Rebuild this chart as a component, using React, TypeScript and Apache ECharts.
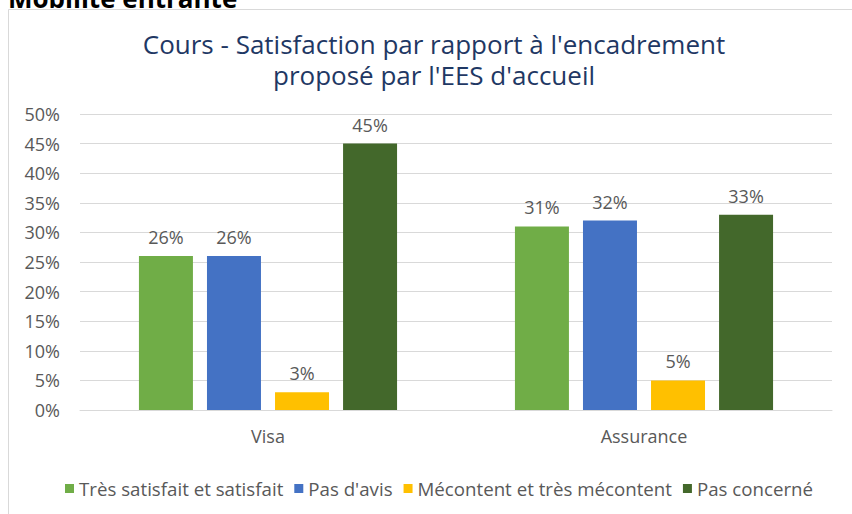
import React, { useEffect, useRef } from "react";
import * as echarts from "echarts";

const categories = ["Visa", "Assurance"];
const seriesNames = [
  "Très satisfait et satisfait",
  "Pas d'avis",
  "Mécontent et très mécontent",
  "Pas concerné",
];
const tresSatisfait = [26, 31];
const pasAvis = [26, 32];
const mecontent = [3, 5];
const pasConcerne = [45, 33];
const colors = ["#70ad47", "#4472c4", "#ffc000", "#43682b"];
const yTicks = { min: 0, max: 50, interval: 5 };
const titleLines = [
  "Cours - Satisfaction par rapport à l'encadrement",
  "proposé par l'EES d'accueil",
];

const FONT = "'Open Sans', 'Noto Sans', sans-serif";
const GRAY = "#595959";

export default function App() {
  const ref = useRef<HTMLDivElement>(null);
  useEffect(() => {
    if (!ref.current) return;
    const chart = echarts.init(ref.current, undefined, { renderer: "svg" });
    const values = [tresSatisfait, pasAvis, mecontent, pasConcerne];
    chart.setOption({
      animation: false,
      backgroundColor: "#ffffff",
      title: titleLines.map((t, i) => ({
        text: t,
        left: 434,
        textAlign: "center",
        top: 29 + i * 31,
        padding: 0,
        textStyle: {
          fontFamily: FONT,
          fontSize: 26,
          fontWeight: "normal",
          color: "#1f3864",
          lineHeight: 29,
        },
      })),
      graphic: [
        {
          type: "rect",
          shape: { x: 8.5, y: 9.5, width: 900, height: 600 },
          style: { fill: "none", stroke: "#d9d9d9", lineWidth: 1 },
          silent: true,
        },
        {
          type: "text",
          x: 8,
          y: 11,
          style: {
            text: "Mobilité entrante",
            fontFamily: FONT,
            fontSize: 26,
            fontWeight: "bold",
            fill: "#000000",
            verticalAlign: "bottom",
          },
          silent: true,
        },
      ],
      legend: {
        left: 60,
        top: 474,
        itemWidth: 9,
        itemHeight: 9,
        itemGap: 11,
        icon: "rect",
        textStyle: { fontFamily: FONT, fontSize: 18.7, color: GRAY },
        data: seriesNames,
      },
      grid: { left: 80, right: 20, top: 114, bottom: 104 },
      xAxis: {
        type: "category",
        data: categories,
        axisLine: { lineStyle: { color: "#d9d9d9" } },
        axisTick: { show: false },
        axisLabel: { fontFamily: FONT, fontSize: 18, color: GRAY, margin: 17 },
      },
      yAxis: {
        type: "value",
        min: yTicks.min,
        max: yTicks.max,
        interval: yTicks.interval,
        axisLine: { show: false },
        axisTick: { show: false },
        splitLine: { lineStyle: { color: "#d9d9d9" } },
        axisLabel: {
          fontFamily: FONT,
          fontSize: 18,
          color: GRAY,
          margin: 20,
          formatter: (v: number) => `${v}%`,
        },
      },
      series: seriesNames.map((name, i) => ({
        name,
        type: "bar",
        data: values[i],
        barWidth: 54,
        barGap: "26%",
        itemStyle: { color: colors[i] },
        label: {
          show: true,
          position: "top",
          distance: 10,
          fontFamily: FONT,
          fontSize: 18,
          color: GRAY,
          formatter: (p: any) => `${p.value}%`,
        },
      })),
    });
    return () => chart.dispose();
  }, []);
  return (
    <div
      ref={ref}
      style={{ position: "absolute", left: 0, top: 0, width: 852, height: 514 }}
    />
  );
}
